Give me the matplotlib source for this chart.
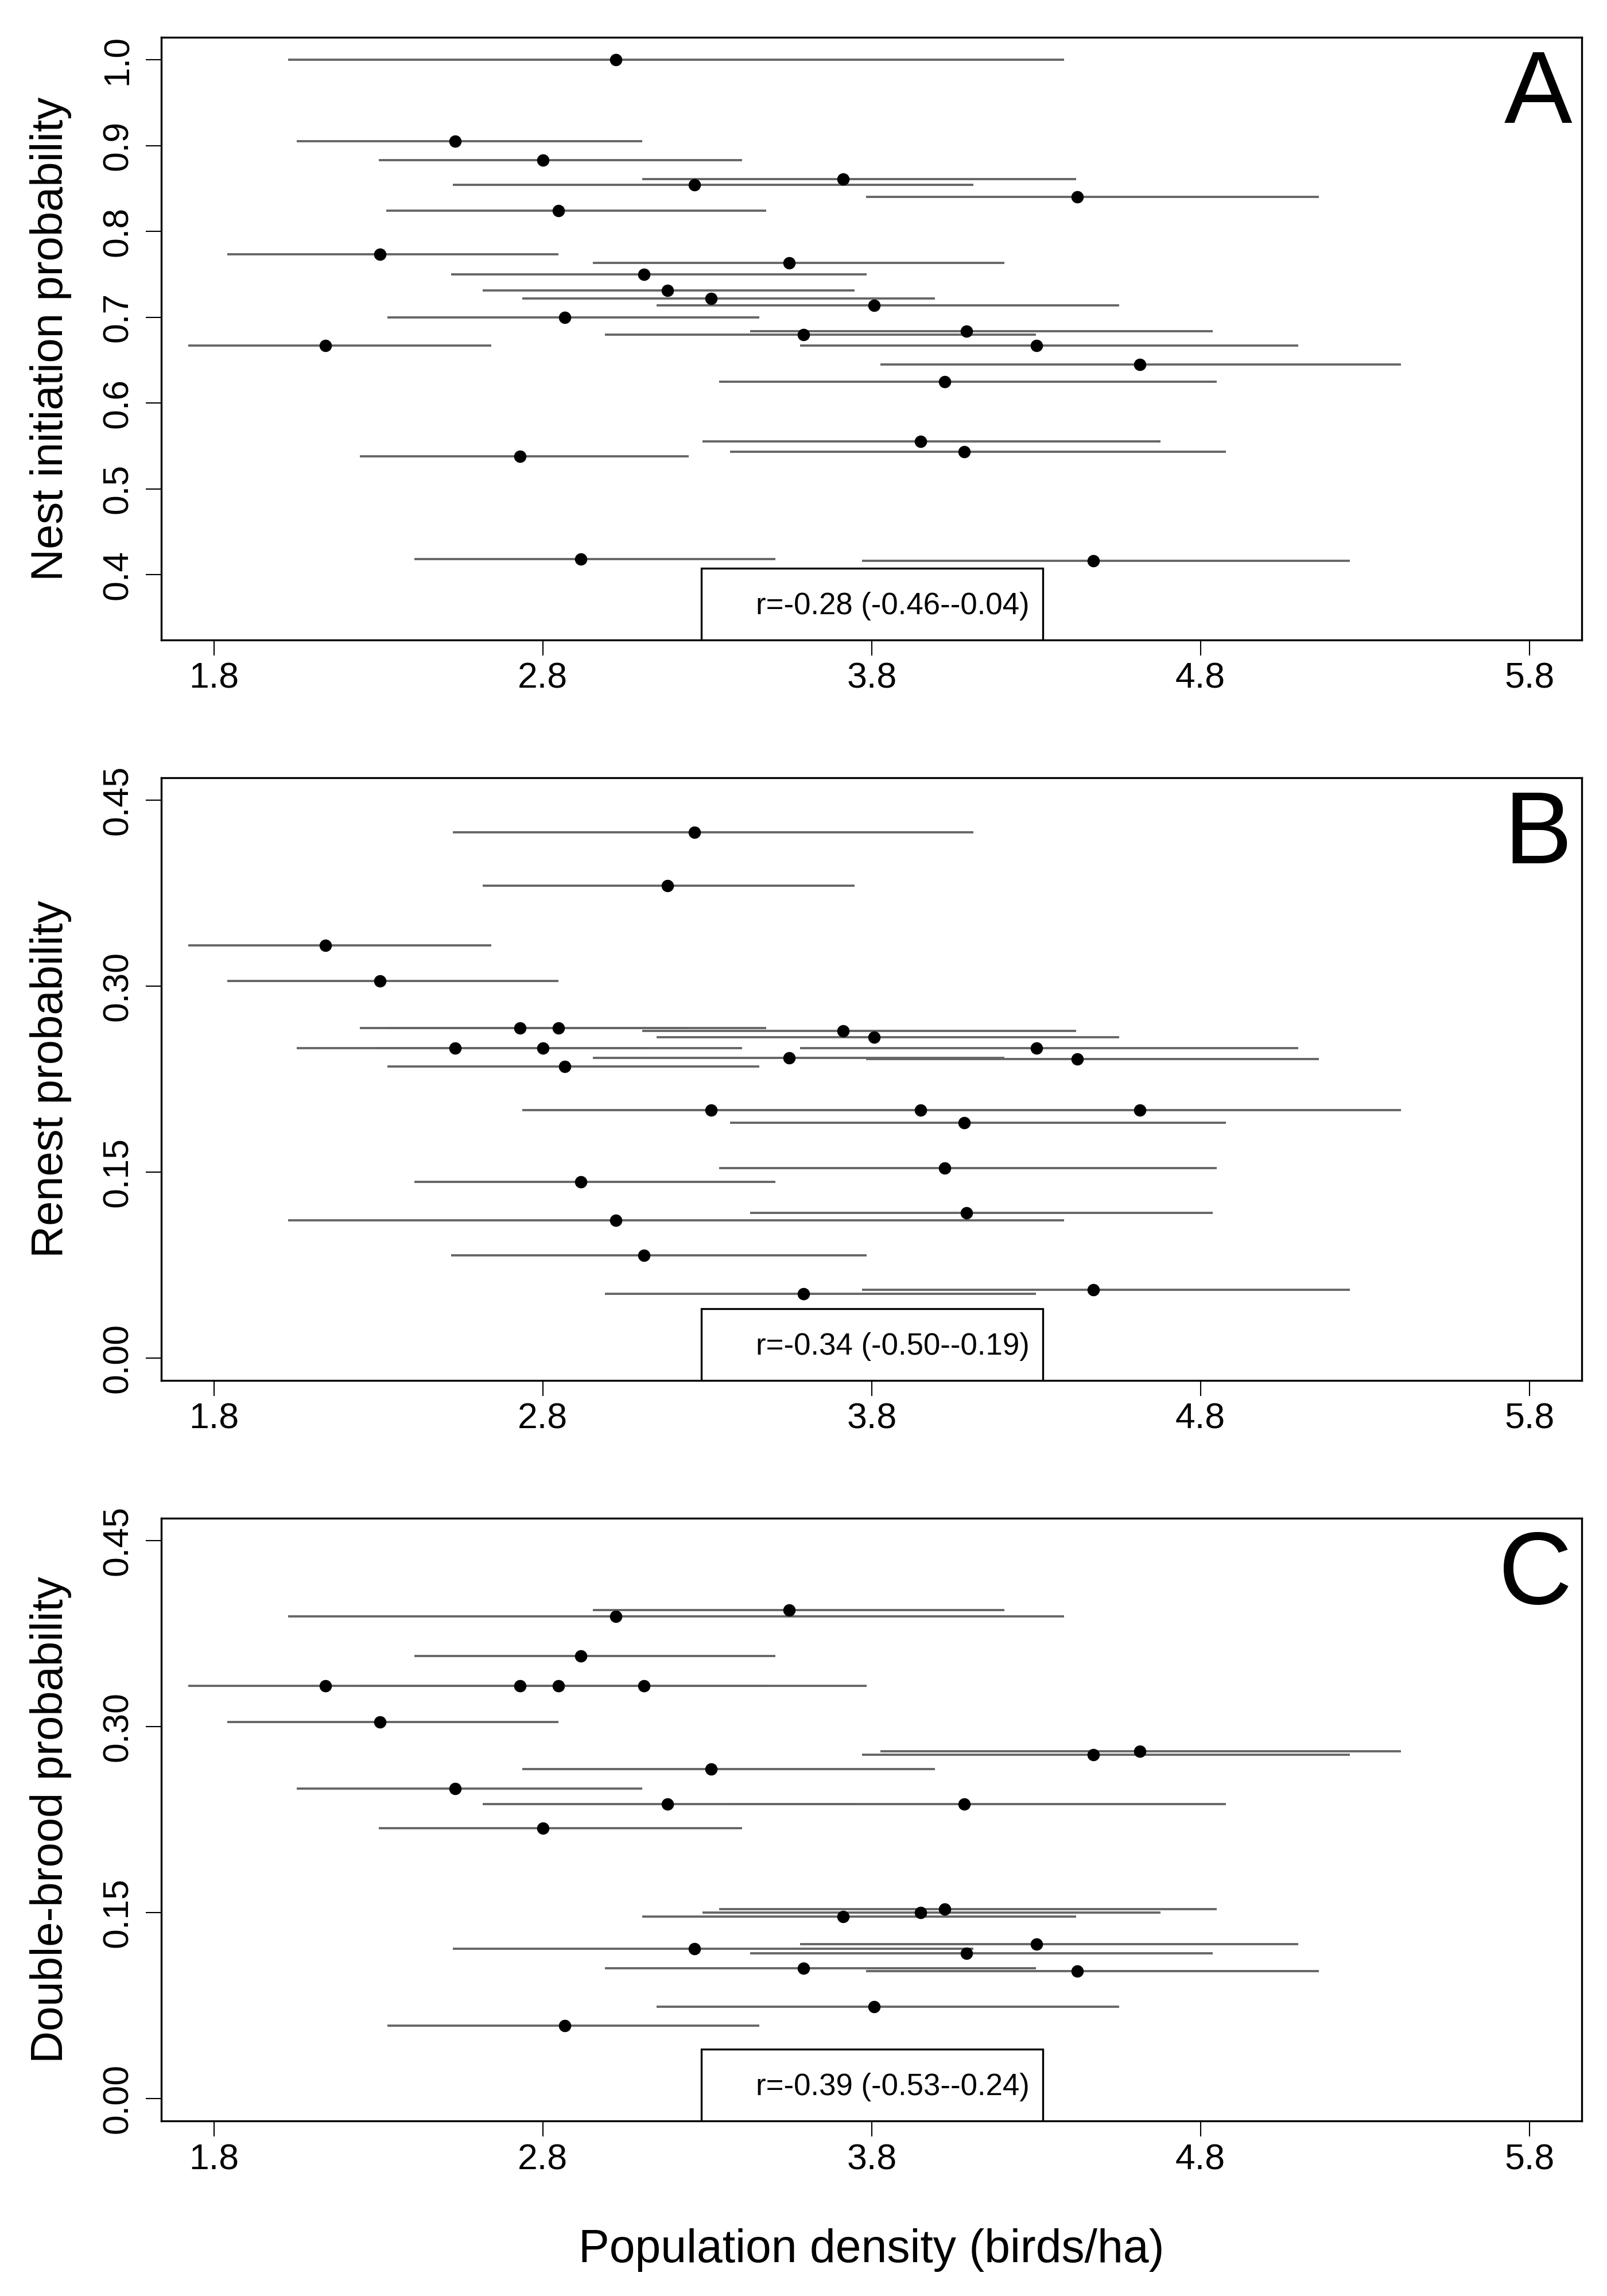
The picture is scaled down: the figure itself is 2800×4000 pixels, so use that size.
import matplotlib
matplotlib.use("Agg")
import matplotlib.pyplot as plt
from matplotlib.patches import Rectangle

plt.rcParams['font.family'] = ['Liberation Sans', 'DejaVu Sans']

# population density per site, with its CI (birds/ha)
density = [3.022, 2.534, 2.801, 3.713, 3.262, 4.426, 2.847, 2.305, 3.549, 3.108,
           3.179, 3.312, 3.807, 2.866, 4.089, 3.592, 4.302, 2.139, 4.615, 4.022,
           3.948, 4.082, 2.730, 2.916, 4.474]
dens_lo = [2.026, 2.051, 2.302, 3.102, 2.526, 3.783, 2.324, 1.841, 2.953, 2.521,
           2.618, 2.738, 3.146, 2.328, 3.430, 2.989, 3.583, 1.721, 3.827, 3.337,
           3.286, 3.370, 2.243, 2.410, 3.770]
dens_hi = [4.386, 3.102, 3.406, 4.422, 4.109, 5.160, 3.479, 2.847, 4.204, 3.785,
           3.749, 3.993, 4.553, 3.458, 4.837, 4.300, 5.097, 2.644, 5.410, 4.850,
           4.678, 4.877, 3.244, 3.508, 5.254]

nest_init = [1.000, 0.905, 0.883, 0.861, 0.854, 0.840, 0.824, 0.773, 0.763, 0.750,
             0.731, 0.722, 0.714, 0.700, 0.684, 0.680, 0.667, 0.667, 0.645, 0.625,
             0.555, 0.543, 0.538, 0.418, 0.416]
renest = [0.111, 0.250, 0.250, 0.264, 0.424, 0.241, 0.266, 0.304, 0.242, 0.083,
          0.381, 0.200, 0.259, 0.235, 0.117, 0.052, 0.250, 0.333, 0.200, 0.153,
          0.200, 0.190, 0.266, 0.142, 0.055]
double_brood = [0.389, 0.250, 0.218, 0.147, 0.121, 0.103, 0.333, 0.304, 0.394, 0.333,
                0.2375, 0.266, 0.074, 0.059, 0.117, 0.105, 0.1245, 0.333, 0.280, 0.153,
                0.150, 0.2375, 0.333, 0.357, 0.2775]

x_ticks = [1.8, 2.8, 3.8, 4.8, 5.8]
yticks_a = [0.4, 0.5, 0.6, 0.7, 0.8, 0.9, 1.0]
yticks_bc = [0.0, 0.15, 0.30, 0.45]
ylabels_bc = ["0.00", "0.15", "0.30", "0.45"]


def panel(ax, yvals, ylabel, letter, rtext, ylim, yticks, ytlabels):
    ax.hlines(yvals, dens_lo, dens_hi, color='#666666', lw=2.8, zorder=1)
    ax.plot(density, yvals, 'o', color='black', ms=14.5, zorder=3)
    ax.set_xlim(1.64, 5.96)
    pad = (ylim[1] - ylim[0]) * 0.04
    ax.set_ylim(ylim[0] - pad, ylim[1] + pad)
    ax.set_xticks(x_ticks)
    ax.set_xticklabels([str(t) for t in x_ticks])
    ax.set_yticks(yticks)
    ax.set_yticklabels(ytlabels, rotation=90, va='center')
    ax.tick_params(axis='both', length=19.5, width=1.5, labelsize=45)
    ax.tick_params(axis='x', pad=8)
    ax.tick_params(axis='y', pad=14)
    for s in ax.spines.values():
        s.set_linewidth(2.4)
    ax.set_ylabel(ylabel, fontsize=56)
    ax.yaxis.set_label_coords(-0.063, 0.5)
    ax.text(0.993, 0.8584, letter, transform=ax.transAxes, fontsize=128,
            ha='right', va='baseline')
    box = Rectangle((0.3802, 0), 0.2404, 0.1192, transform=ax.transAxes,
                    facecolor='white', edgecolor='black', lw=2.4, zorder=4)
    ax.add_patch(box)
    ax.text(0.611, 0.043, rtext, transform=ax.transAxes, fontsize=38,
            ha='right', va='baseline', zorder=5)


fig = plt.figure(figsize=(28, 40), dpi=100)
ax_a = fig.add_axes([0.1004, 0.7213, 0.884, 0.2624])
ax_b = fig.add_axes([0.1004, 0.3988, 0.884, 0.2624])
ax_c = fig.add_axes([0.1004, 0.07625, 0.884, 0.2624])

panel(ax_a, nest_init, "Nest initiation probability", "A", "r=-0.28 (-0.46--0.04)",
      (0.35, 1.0), yticks_a, [f"{t:.1f}" for t in yticks_a])
panel(ax_b, renest, "Renest probability", "B", "r=-0.34 (-0.50--0.19)",
      (0.0, 0.45), yticks_bc, ylabels_bc)
panel(ax_c, double_brood, "Double-brood probability", "C", "r=-0.39 (-0.53--0.24)",
      (0.0, 0.45), yticks_bc, ylabels_bc)

ax_c.set_xlabel("Population density (birds/ha)", fontsize=58)
ax_c.xaxis.set_label_coords(0.5, -0.178)

fig.savefig("out.png", dpi=100, facecolor='white')
